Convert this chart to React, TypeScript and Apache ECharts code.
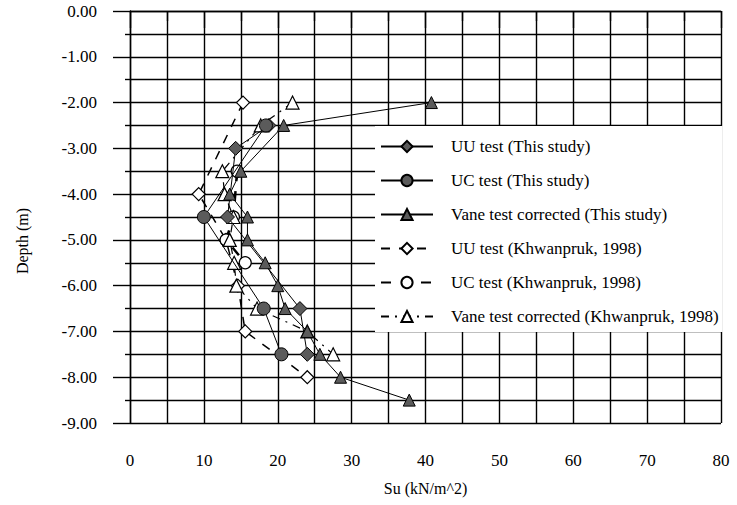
import React, { useEffect, useRef } from "react";
import * as echarts from "echarts";

// ---- data (Su in kN/m^2, depth in m) ----
const xTicks = [0, 10, 20, 30, 40, 50, 60, 70, 80];
const yTicks = [0, -1, -2, -3, -4, -5, -6, -7, -8, -9];

const uuThisSu = [18.8, 14.3, 13.2, 23.0, 24.0];
const uuThisDepth = [-2.5, -3.0, -4.5, -6.5, -7.5];

const ucThisSu = [18.4, 10.0, 18.1, 20.5];
const ucThisDepth = [-2.5, -4.5, -6.5, -7.5];

const vaneThisSu = [40.8, 20.8, 15.0, 13.5, 15.9, 15.9, 18.3, 20.0, 21.0, 24.0, 25.7, 28.5, 37.8];
const vaneThisDepth = [-2.0, -2.5, -3.5, -4.0, -4.5, -5.0, -5.5, -6.0, -6.5, -7.0, -7.5, -8.0, -8.5];

const uuKhwSu = [15.3, 9.3, 13.0, 14.6, 15.6, 24.0];
const uuKhwDepth = [-2.0, -4.0, -5.0, -6.0, -7.0, -8.0];

const ucKhwSu = [14.5, 14.0, 13.0, 15.6];
const ucKhwDepth = [-3.5, -4.5, -5.0, -5.5];

const vaneKhwSu = [22.0, 17.7, 12.5, 12.8, 14.0, 13.5, 14.1, 14.4, 17.2, 24.0, 27.5];
const vaneKhwDepth = [-2.0, -2.5, -3.5, -4.0, -4.5, -5.0, -5.5, -6.0, -6.5, -7.0, -7.5];

const seriesNames = [
  "UU test (This study)",
  "UC test (This study)",
  "Vane test corrected (This study)",
  "UU test (Khwanpruk, 1998)",
  "UC test (Khwanpruk, 1998)",
  "Vane test corrected (Khwanpruk, 1998)",
];

const pair = (xs: number[], ys: number[]) => xs.map((x, i) => [x, ys[i]]);

const FONT = "Liberation Serif";
const INK = "#000";
const FILL = "#5b5b5b";

export default function App() {
  const ref = useRef<HTMLDivElement>(null);
  useEffect(() => {
    if (!ref.current) return;
    const chart = echarts.init(ref.current, undefined, { renderer: "svg" });
    const filled = { color: FILL, borderColor: INK, borderWidth: 1 };
    const open = { color: "#fff", borderColor: INK, borderWidth: 1.2 };
    const gl = { color: INK, width: 1.4 };
    chart.setOption({
      animation: false,
      backgroundColor: "#fff",
      textStyle: { fontFamily: FONT, color: INK },
      grid: { left: 130, right: 16, top: 11, bottom: 82 },
      legend: {
        orient: "vertical",
        left: 375,
        top: 126,
        backgroundColor: "#fff",
        padding: [11, 4, 6, 5],
        itemWidth: 52,
        itemHeight: 14,
        itemGap: 15,
        textStyle: { fontFamily: FONT, fontSize: 17, color: INK, lineHeight: 19, padding: [0, 0, 0, 13] },
        data: seriesNames,
      },
      xAxis: {
        type: "value",
        min: 0,
        max: 80,
        interval: 10,
        name: "Su (kN/m^2)",
        nameLocation: "middle",
        nameGap: 57,
        nameTextStyle: { fontFamily: FONT, fontSize: 16, color: INK },
        axisLine: { show: true, lineStyle: gl },
        axisTick: { show: true, length: 17, lineStyle: gl },
        minorTick: { show: true, splitNumber: 2, length: 10, lineStyle: gl },
        splitLine: { show: true, lineStyle: gl },
        minorSplitLine: { show: true, lineStyle: gl },
        axisLabel: {
          margin: 29,
          fontFamily: FONT,
          fontSize: 17,
          color: INK,
          customValues: xTicks,
          formatter: (v: number) => String(v),
        },
      },
      yAxis: {
        type: "value",
        min: -9,
        max: 0,
        interval: 1,
        name: "Depth (m)",
        nameLocation: "middle",
        nameGap: 100,
        nameTextStyle: { fontFamily: FONT, fontSize: 16, color: INK, padding: [0, 48, 0, 0] },
        axisLine: { show: true, lineStyle: gl },
        axisTick: { show: true, length: 17, lineStyle: gl },
        minorTick: { show: true, splitNumber: 2, length: 5, lineStyle: gl },
        splitLine: { show: true, lineStyle: gl },
        minorSplitLine: { show: true, lineStyle: gl },
        axisLabel: {
          margin: 33,
          fontFamily: FONT,
          fontSize: 17,
          color: INK,
          customValues: yTicks,
          formatter: (v: number) => (Math.abs(v) < 1e-9 ? "0.00" : v.toFixed(2)),
        },
      },
      series: [
        {
          name: seriesNames[0],
          type: "line",
          data: pair(uuThisSu, uuThisDepth),
          symbol: "diamond",
          symbolSize: 14,
          itemStyle: filled,
          lineStyle: { color: INK, width: 1, type: "solid" },
          z: 5,
        },
        {
          name: seriesNames[1],
          type: "line",
          data: pair(ucThisSu, ucThisDepth),
          symbol: "circle",
          symbolSize: 13,
          itemStyle: filled,
          lineStyle: { color: INK, width: 1, type: "solid" },
          z: 5,
        },
        {
          name: seriesNames[2],
          type: "line",
          data: pair(vaneThisSu, vaneThisDepth),
          symbol: "triangle",
          symbolSize: 12,
          itemStyle: filled,
          lineStyle: { color: INK, width: 1, type: "solid" },
          z: 5,
        },
        {
          name: seriesNames[3],
          type: "line",
          data: pair(uuKhwSu, uuKhwDepth),
          symbol: "diamond",
          symbolSize: 13,
          itemStyle: open,
          lineStyle: { color: INK, width: 1.5, type: [9, 9] },
          z: 4,
        },
        {
          name: seriesNames[4],
          type: "line",
          data: pair(ucKhwSu, ucKhwDepth),
          symbol: "circle",
          symbolSize: 12,
          itemStyle: open,
          lineStyle: { color: INK, width: 2.5, type: [10, 10] },
          z: 4,
        },
        {
          name: seriesNames[5],
          type: "line",
          data: pair(vaneKhwSu, vaneKhwDepth),
          symbol: "triangle",
          symbolSize: 13,
          itemStyle: open,
          lineStyle: { color: INK, width: 1.2, type: [8, 6, 2, 6] },
          z: 4,
        },
      ],
    });
    return () => chart.dispose();
  }, []);
  return <div ref={ref} style={{ width: 737, height: 505, position: "absolute", left: 0, top: 0 }} />;
}
